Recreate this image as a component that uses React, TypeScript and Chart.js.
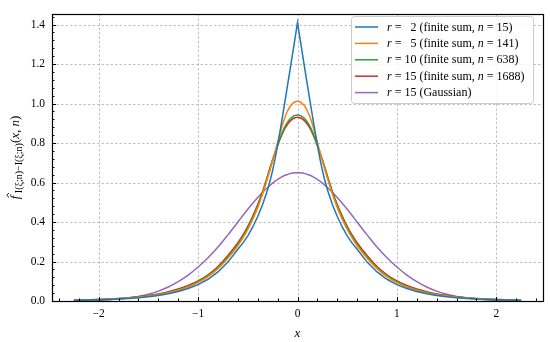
import React, { useEffect, useRef } from "react";
import { Chart, registerables } from "chart.js";

Chart.register(...registerables);

// x positions (non-negative half; the curves are symmetric about x = 0)
const X_HALF = [0, 0.025, 0.05, 0.075, 0.1, 0.125, 0.15, 0.175, 0.2, 0.225, 0.25, 0.275, 0.3, 0.35, 0.4, 0.45, 0.5, 0.55, 0.6, 0.7, 0.8, 0.9, 1.0, 1.1, 1.2, 1.3, 1.4, 1.5, 1.6, 1.7, 1.8, 1.9, 2.0, 2.1, 2.25];

const R2_FINITE = [1.41, 1.33, 1.25, 1.17, 1.093, 1.015, 0.938, 0.862, 0.79, 0.722, 0.662, 0.61, 0.565, 0.49, 0.428, 0.375, 0.33, 0.293, 0.262, 0.197, 0.147, 0.11, 0.083, 0.063, 0.048, 0.037, 0.028, 0.022, 0.017, 0.013, 0.01, 0.008, 0.006, 0.0045, 0.003];
const R5_FINITE = [1.012, 1.009, 0.999, 0.985, 0.962, 0.932, 0.895, 0.85, 0.803, 0.756, 0.71, 0.666, 0.624, 0.543, 0.473, 0.414, 0.362, 0.318, 0.28, 0.217, 0.164, 0.123, 0.093, 0.071, 0.054, 0.042, 0.032, 0.025, 0.019, 0.015, 0.011, 0.009, 0.007, 0.005, 0.003];
const R10_FINITE = [0.942, 0.94, 0.933, 0.922, 0.906, 0.884, 0.857, 0.825, 0.79, 0.752, 0.714, 0.674, 0.632, 0.552, 0.483, 0.424, 0.372, 0.327, 0.288, 0.224, 0.17, 0.128, 0.098, 0.075, 0.057, 0.044, 0.034, 0.026, 0.02, 0.016, 0.012, 0.009, 0.007, 0.005, 0.004];
const R15_FINITE = [0.93, 0.928, 0.921, 0.91, 0.895, 0.875, 0.85, 0.82, 0.787, 0.752, 0.715, 0.676, 0.635, 0.556, 0.488, 0.43, 0.378, 0.333, 0.295, 0.23, 0.175, 0.133, 0.102, 0.079, 0.061, 0.047, 0.036, 0.028, 0.022, 0.017, 0.013, 0.01, 0.008, 0.006, 0.004];
const R15_GAUSS = [0.65, 0.6495, 0.648, 0.645, 0.641, 0.637, 0.631, 0.624, 0.616, 0.607, 0.597, 0.586, 0.575, 0.551, 0.524, 0.495, 0.465, 0.433, 0.4, 0.335, 0.273, 0.219, 0.172, 0.131, 0.098, 0.071, 0.05, 0.034, 0.023, 0.015, 0.0095, 0.006, 0.0035, 0.002, 0.001];

const X_TICKS = [-2, -1, 0, 1, 2];
const Y_TICKS = [0, 0.2, 0.4, 0.6, 0.8, 1.0, 1.2, 1.4];

type Piece = { t: string; italic?: boolean; size?: number; dy?: number };

const LEGEND_ROWS: Piece[][] = [
  [{ t: "r", italic: true }, { t: " = \u2007" }, { t: "2 (finite sum, " }, { t: "n", italic: true }, { t: " = 15)" }],
  [{ t: "r", italic: true }, { t: " = \u2007" }, { t: "5 (finite sum, " }, { t: "n", italic: true }, { t: " = 141)" }],
  [{ t: "r", italic: true }, { t: " = 10 (finite sum, " }, { t: "n", italic: true }, { t: " = 638)" }],
  [{ t: "r", italic: true }, { t: " = 15 (finite sum, " }, { t: "n", italic: true }, { t: " = 1688)" }],
  [{ t: "r", italic: true }, { t: " = 15 (Gaussian)" }],
];
const COLORS = ["#1f77b4", "#ff7f0e", "#2ca02c", "#d62728", "#9467bd"];
const SERIES = [R2_FINITE, R5_FINITE, R10_FINITE, R15_FINITE, R15_GAUSS];

const FONT = "'Liberation Serif', 'DejaVu Serif', serif";

function fontOf(p: Piece, base: number) {
  return `${p.italic ? "italic " : ""}${p.size ?? base}px ${FONT}`;
}
function richWidth(ctx: CanvasRenderingContext2D, pieces: Piece[], base: number) {
  let w = 0;
  for (const p of pieces) {
    ctx.font = fontOf(p, base);
    w += ctx.measureText(p.t).width;
  }
  return w;
}
function drawRich(ctx: CanvasRenderingContext2D, pieces: Piece[], x: number, y: number, base: number) {
  let cx = x;
  for (const p of pieces) {
    ctx.font = fontOf(p, base);
    ctx.fillText(p.t, cx, y + (p.dy ?? 0));
    cx += ctx.measureText(p.t).width;
  }
}

function mirror(vals: number[]) {
  const pts: { x: number; y: number }[] = [];
  for (let i = X_HALF.length - 1; i > 0; i--) pts.push({ x: -X_HALF[i], y: vals[i] });
  for (let i = 0; i < X_HALF.length; i++) pts.push({ x: X_HALF[i], y: vals[i] });
  return pts;
}

const decorPlugin = {
  id: "decor",
  beforeDatasetsDraw(chart: any) {
    const { ctx, chartArea: a, scales } = chart;
    ctx.save();
    ctx.strokeStyle = "#b0b0b0";
    ctx.lineWidth = 0.8;
    ctx.setLineDash([2.5, 2]);
    for (const v of X_TICKS) {
      const px = Math.round(scales.x.getPixelForValue(v)) + 0.5;
      ctx.beginPath();
      ctx.moveTo(px, a.top);
      ctx.lineTo(px, a.bottom);
      ctx.stroke();
    }
    for (const v of Y_TICKS) {
      const py = Math.round(scales.y.getPixelForValue(v)) + 0.5;
      ctx.beginPath();
      ctx.moveTo(a.left, py);
      ctx.lineTo(a.right, py);
      ctx.stroke();
    }
    ctx.restore();
  },
  afterDatasetsDraw(chart: any) {
    const { ctx, chartArea: a, scales } = chart;
    ctx.save();
    ctx.strokeStyle = "#000";
    ctx.lineWidth = 1;
    for (let k = -12; k <= 12; k++) {
      const v = k * 0.2;
      const px = Math.round(scales.x.getPixelForValue(v)) + 0.5;
      if (px < a.left || px > a.right) continue;
      const len = k % 5 === 0 ? 4 : 2.5;
      ctx.beginPath();
      ctx.moveTo(px, a.bottom);
      ctx.lineTo(px, a.bottom - len);
      ctx.stroke();
    }
    for (let k = 0; k <= 36; k++) {
      const v = k * 0.04;
      const py = Math.round(scales.y.getPixelForValue(v)) + 0.5;
      if (py < a.top) continue;
      const len = k % 5 === 0 ? 4 : 2.5;
      ctx.beginPath();
      ctx.moveTo(a.left, py);
      ctx.lineTo(a.left + len, py);
      ctx.stroke();
    }
    ctx.lineWidth = 1.2;
    ctx.strokeRect(Math.round(a.left) + 0.5, Math.round(a.top) + 0.5, Math.round(a.right - a.left), Math.round(a.bottom - a.top));

    // legend
    const lx = 351, ly = 16, lw = 182, lh = 87;
    ctx.beginPath();
    (ctx as any).roundRect(lx + 0.5, ly + 0.5, lw, lh, 3);
    ctx.fillStyle = "rgba(255,255,255,0.85)";
    ctx.fill();
    ctx.strokeStyle = "#cccccc";
    ctx.lineWidth = 1;
    ctx.stroke();
    ctx.textBaseline = "middle";
    ctx.fillStyle = "#000";
    LEGEND_ROWS.forEach((row, i) => {
      const y = 27 + i * 16.4;
      ctx.strokeStyle = COLORS[i];
      ctx.lineWidth = 1.5;
      ctx.beginPath();
      ctx.moveTo(355, y);
      ctx.lineTo(378, y);
      ctx.stroke();
      drawRich(ctx, row, 387, y + 0.5, 12);
    });

    // axis titles
    ctx.fillStyle = "#000";
    ctx.textBaseline = "middle";
    ctx.font = `italic 13px ${FONT}`;
    ctx.textAlign = "center";
    ctx.fillText("x", (a.left + a.right) / 2, 334);
    ctx.textAlign = "left";
    const yl: Piece[] = [
      { t: "f", italic: true, size: 13 },
      { t: " I(ξ;n)−I(ξ;n)", size: 10, dy: 3.5 },
      { t: "(", size: 13 },
      { t: "x", italic: true, size: 13 },
      { t: ", ", size: 13 },
      { t: "n", italic: true, size: 13 },
      { t: ")", size: 13 },
    ];
    ctx.translate(16, (a.top + a.bottom) / 2);
    ctx.rotate(-Math.PI / 2);
    const w = richWidth(ctx, yl, 13);
    drawRich(ctx, yl, -w / 2, 0, 13);
    ctx.strokeStyle = "#000";
    ctx.lineWidth = 0.9;
    ctx.beginPath();
    const hx = -w / 2 + 4;
    ctx.moveTo(hx - 2.2, -7);
    ctx.lineTo(hx, -9.3);
    ctx.lineTo(hx + 2.2, -7);
    ctx.stroke();
    ctx.restore();
  },
};

export default function App() {
  const ref = useRef<HTMLCanvasElement>(null);
  useEffect(() => {
    document.body.style.margin = "0";
    const chart = new Chart(ref.current!, {
      type: "line",
      data: {
        datasets: SERIES.map((vals, i) => ({
          data: mirror(vals),
          borderColor: COLORS[i],
          borderWidth: 1.5,
          pointRadius: 0,
          fill: false,
          tension: 0,
          cubicInterpolationMode: i === 0 ? "default" : "monotone",
        })) as any,
      },
      options: {
        animation: false,
        responsive: false,
        layout: { padding: { top: 5, right: 7, left: 0, bottom: 0 } },
        plugins: { legend: { display: false }, tooltip: { enabled: false } },
        scales: {
          x: {
            type: "linear",
            min: -2.47,
            max: 2.47,
            grid: { display: false, drawTicks: false },
            border: { display: false },
            afterBuildTicks: (s: any) => { s.ticks = X_TICKS.map((v) => ({ value: v })); },
            afterFit: (s: any) => { s.height = 41; },
            ticks: {
              padding: 6,
              color: "#000",
              maxRotation: 0,
              font: { family: FONT, size: 11.5 },
              callback: (v: any) => (Number(v) < 0 ? "\u2212" + Math.abs(Number(v)) : String(v)),
            },
          },
          y: {
            type: "linear",
            min: 0,
            max: 1.454,
            grid: { display: false, drawTicks: false },
            border: { display: false },
            afterBuildTicks: (s: any) => { s.ticks = Y_TICKS.map((v) => ({ value: v })); },
            afterFit: (s: any) => { s.width = 52; },
            ticks: {
              padding: 7,
              color: "#000",
              font: { family: FONT, size: 11.5 },
              callback: (v: any) => Number(v).toFixed(1),
            },
          },
        },
      },
      plugins: [decorPlugin],
    });
    return () => chart.destroy();
  }, []);
  return <canvas ref={ref} width={550} height={342} style={{ display: "block" }} />;
}
